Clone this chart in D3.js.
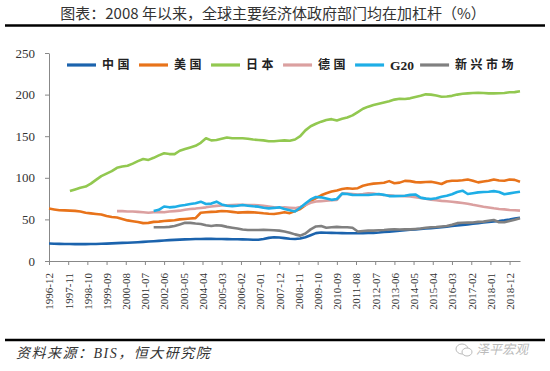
<!DOCTYPE html>
<html>
<head>
<meta charset="utf-8">
<script src="https://cdn.jsdelivr.net/npm/d3@7"></script>
<style>
  body { margin: 0; background: #fff; }
  svg { display: block; }
</style>
</head>
<body>
<svg id="chart" width="550" height="371"></svg>
<script>
// quarterly observations, first one is 1996-12
const startMonth = "1996-12";

const tickLabels = ["1996-12","1997-11","1998-10","1999-09","2000-08","2001-07","2002-06","2003-05",
  "2004-04","2005-03","2006-02","2007-01","2007-12","2008-11","2009-10","2010-09","2011-08",
  "2012-07","2013-06","2014-05","2015-04","2016-03","2017-02","2018-01","2018-12"];

const seriesNames = ["中国", "美国", "日本", "德国", "G20", "新兴市场"];

const china = [21,20.8,20.6,20.5,20.4,20.3,20.3,20.3,20.4,20.5,
  20.7,20.9,21.2,21.5,21.8,22,22.3,22.6,23,23.4,
  23.8,24.2,24.7,25.1,25.4,25.7,26,26.2,26.4,26.5,
  26.6,26.6,26.5,26.4,26.3,26.2,26.1,26,25.8,25.6,
  25.5,26.5,27.8,28.5,28.2,27.5,26.8,26.5,27,28.5,
  31,33.5,34.2,34,33.8,33.6,33.5,33.4,33.4,33.4,
  33.5,33.6,33.8,34.2,34.8,35.3,35.8,36.3,36.9,37.5,
  38,38.5,39,39.5,40,40.6,41.3,42,42.7,43.4,
  44,44.7,45.5,46.2,46.8,47.4,48,48.8,49.8,51,
  52];

const us = [63,62,61,60.8,60.5,60.2,59.5,58,57.2,56.5,
  55.8,54,52.8,52.2,50.5,48.8,47.8,46.8,45.5,45.8,
  47,47.3,48,48.5,49,50,50.5,51,51.5,58,
  58.5,59,59.3,60,59.8,59,58.2,58.5,58.7,58.5,
  58,57.3,56.8,56.5,57.5,58.5,57.5,60,62.5,67,
  72,75.5,79,81.5,83.5,84.8,86.5,87.5,86.8,87.5,
  90.5,92,93,93.5,94,96,93.5,94.2,96.3,96,
  94.8,94.5,95,95.3,94,92.5,95.5,96.5,96.5,97,
  98,96.5,94.5,95.5,96.5,98,96.8,96.5,98,97.5,
  95.3];

const japan = [null,null,null,null,84,86,88,89.5,93,97.5,
  102,105,108,112,113.5,114.5,117,120,122.5,121.5,
  124,127,129.5,128.5,128.5,132.5,134.5,136.5,138.5,142,
  147.5,145,145.5,147,148.5,147.5,147.5,147.5,147,146,
  145.5,145,144,144,144.5,145,144.5,146,150,157,
  162,165,167.5,169.5,170.5,169,171,172.5,175,179,
  183,185.5,187.5,189,190.5,192,194,195,194.7,195.5,
  197,198.5,200.3,200,199,197.5,197.8,198.5,200,201,
  201.5,202,202.3,202,201.5,201.5,201.6,202,202.8,203,
  204];

const germany = [null,null,null,null,null,null,null,null,null,null,
  null,null,null,60,60,59.5,59.5,59,58.5,58,
  58.5,59,58.5,59.5,60,60.5,61.5,62.5,63,63.8,
  64.5,65.5,66.3,66.8,67,67.3,67.5,67.5,67.3,67.3,
  67,66.3,65.5,64.7,64,64.5,64,63.5,65,67.3,
  70,71.5,72,72.5,73,73.3,81,81,80.5,80,
  80.5,81.3,81,80,79.3,79,78.5,78.2,78,77.5,
  76.8,75.8,74.8,73.8,73,72.3,71.8,71.2,70.5,69.8,
  68.8,67.5,66.5,65.3,64.3,63.3,62.5,62,61.3,61,
  60.5];

const g20 = [null,null,null,null,null,null,null,null,null,null,
  null,null,null,null,null,null,null,null,null,null,
  60,61.5,65.5,64.5,65,66.5,67.3,68.5,69.5,71.3,
  68.5,69,71.3,68,66.5,66,66.5,67.3,66.5,65.8,
  65.3,64,63.3,63.8,64.5,62.5,61,59.5,64,69,
  74,77,76.5,75,73.5,74.5,81,80.5,79.5,79.3,
  79.3,79.3,80,80.5,79.5,78,78,78.1,78.5,79.5,
  80,76.2,75,74.5,75.5,77.3,78.5,80.3,83,84.5,
  80.5,81.5,82.5,83,83.3,84,83,80.3,81.3,82.3,
  83.3];

const emerging = [null,null,null,null,null,null,null,null,null,null,
  null,null,null,null,null,null,null,null,null,null,
  40.5,40.5,40.5,41,42,44,46,45.8,45,44.5,
  43,42,43,42.5,41,40,39,37.8,37.3,37.3,
  37.3,37.5,37.3,37,36.5,35.5,34,32,30.5,33,
  38,41.5,42,40,40.5,41,40.5,40.5,40,35.5,
  36,36.5,36.5,37,37.3,37.8,38,37.8,38.1,38,
  38.5,39,40,40.5,40.8,41.5,42,43.5,45.5,46,
  46.1,46.3,47,47.3,48.3,49.3,46.5,46.5,48,49.5,
  51.3];

const yTicks = [0, 50, 100, 150, 200, 250];

const colors = ["#1b63ad", "#e8731a", "#92c850", "#dba0a0", "#1eaee6", "#808080"];
const serif = "'Liberation Serif', 'Times New Roman', serif";
const cjk = "'Noto Sans CJK SC', sans-serif";

const parseMonth = d3.timeParse("%Y-%m");
const start = parseMonth(startMonth);
const quarters = d3.range(china.length).map(i => d3.timeMonth.offset(start, i * 3));
const allSeries = [china, us, japan, germany, g20, emerging];

const svg = d3.select("#chart");
const margin = { top: 53, right: 30, bottom: 110, left: 49 },
      width = 550,
      height = 371;

const x = d3.scaleTime()
  .domain([start, quarters[quarters.length - 1]])
  .range([margin.left, width - margin.right]);

const y = d3.scaleLinear()
  .domain([0, 250])
  .range([height - margin.bottom, margin.top]);

// title + rule
svg.append("text")
  .attr("x", 273).attr("y", 19)
  .attr("text-anchor", "middle")
  .style("font-family", cjk)
  .style("font-size", "15px")
  .attr("fill", "#333")
  .text("图表：2008 年以来，全球主要经济体政府部门均在加杠杆（%）");

svg.append("line")
  .attr("x1", 5).attr("x2", 545)
  .attr("y1", 25.5).attr("y2", 25.5)
  .attr("stroke", "#000").attr("stroke-width", 2.5);

// y axis
svg.append("g")
  .attr("transform", `translate(${margin.left},0)`)
  .call(d3.axisLeft(y).tickValues(yTicks).tickSize(4).tickSizeOuter(0).tickPadding(10))
  .call(g => g.selectAll(".domain, .tick line").attr("stroke", "#888"))
  .call(g => g.selectAll(".tick text")
    .attr("fill", "#333")
    .style("font-family", serif)
    .style("font-size", "13px"));

// x axis
svg.append("g")
  .attr("transform", `translate(0,${y(0)})`)
  .call(d3.axisBottom(x)
    .tickValues(tickLabels.map(parseMonth))
    .tickFormat(d3.timeFormat("%Y-%m"))
    .tickSize(4).tickSizeOuter(0))
  .call(g => g.selectAll(".domain, .tick line").attr("stroke", "#888"))
  .call(g => g.selectAll(".tick text")
    .attr("transform", "rotate(-90)")
    .attr("text-anchor", "end")
    .attr("x", -12).attr("y", 0).attr("dy", "0.35em")
    .attr("fill", "#333")
    .style("font-family", serif)
    .style("font-size", "11px"));

// lines
const line = d3.line()
  .defined(d => d[1] != null)
  .x(d => x(d[0]))
  .y(d => y(d[1]));

allSeries.forEach((values, i) => {
  svg.append("path")
    .datum(values.map((v, j) => [quarters[j], v]))
    .attr("fill", "none")
    .attr("stroke", colors[i])
    .attr("stroke-width", 2.6)
    .attr("stroke-linejoin", "round")
    .attr("d", line);
});

// legend
const legend = svg.append("g").attr("transform", "translate(67,65)");
let lx = 0;
seriesNames.forEach((name, i) => {
  const item = legend.append("g").attr("transform", `translate(${lx},0)`);
  item.append("line")
    .attr("x1", 0).attr("x2", 29)
    .attr("stroke", colors[i]).attr("stroke-width", 3.2);
  const t = item.append("text")
    .attr("x", 35).attr("dy", "0.36em")
    .attr("fill", "#222")
    .style("font-weight", "bold")
    .text(name);
  if (name === "G20") {
    t.style("font-family", serif).style("font-size", "13.5px");
  } else {
    t.style("font-family", cjk).style("font-size", "12px").style("letter-spacing", "3.5px");
  }
  lx += 35 + t.node().getComputedTextLength() + 6;
});

// source line
svg.append("line")
  .attr("x1", 5).attr("x2", 545)
  .attr("y1", 340).attr("y2", 340)
  .attr("stroke", "#000").attr("stroke-width", 2.5);

svg.append("text")
  .attr("x", 16).attr("y", 358)
  .style("font-family", cjk)
  .style("font-size", "14px")
  .style("letter-spacing", "1.5px")
  .style("font-style", "italic")
  .attr("fill", "#333")
  .text("资料来源：")
  .append("tspan").style("font-family", serif).text("BIS")
  .select(function () { return this.parentNode; })
  .append("tspan").text("，恒大研究院");

// watermark
const wm = svg.append("g").attr("transform", "translate(462,349)");
wm.append("ellipse").attr("rx", 6).attr("ry", 5)
  .attr("fill", "none").attr("stroke", "#bbb").attr("stroke-width", 1);
wm.append("ellipse").attr("cx", 5).attr("cy", 3).attr("rx", 5).attr("ry", 4)
  .attr("fill", "#fff").attr("stroke", "#bbb").attr("stroke-width", 1);
wm.append("text")
  .attr("x", 14).attr("dy", "0.35em")
  .style("font-family", cjk)
  .style("font-size", "13px")
  .style("font-style", "italic")
  .attr("fill", "#bbb")
  .text("泽平宏观");
</script>
</body>
</html>
